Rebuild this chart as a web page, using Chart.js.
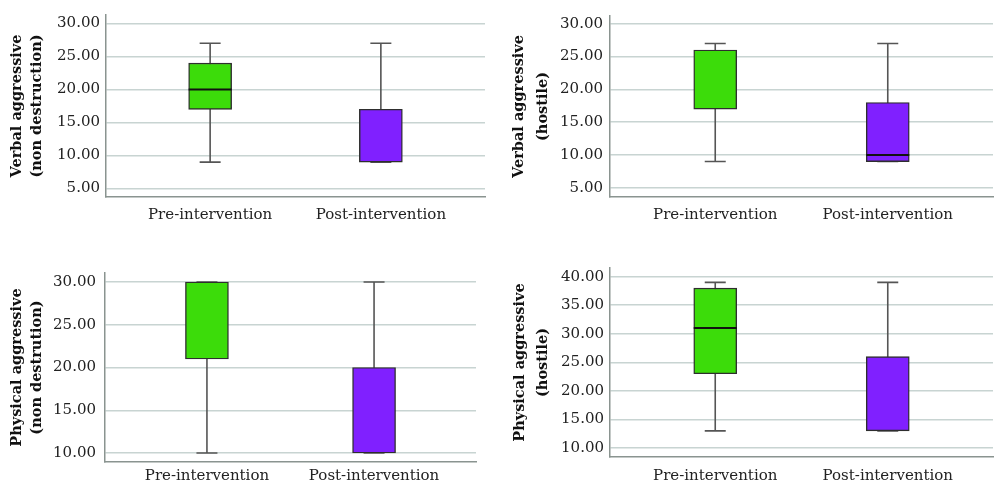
<!DOCTYPE html>
<html>
<head>
<meta charset="utf-8">
<script src="https://cdn.jsdelivr.net/npm/chart.js@4"></script>
<style>
  html, body { margin: 0; padding: 0; background: #fff; }
  #wrap { position: relative; width: 1000px; height: 494px; }
  .panel { position: absolute; width: 500px; height: 247px; }
</style>
</head>
<body>
<div id="wrap">
  <div class="panel" style="left:0;top:0"><canvas id="c1"></canvas></div>
  <div class="panel" style="left:500px;top:0"><canvas id="c2"></canvas></div>
  <div class="panel" style="left:0;top:247px"><canvas id="c3"></canvas></div>
  <div class="panel" style="left:500px;top:247px"><canvas id="c4"></canvas></div>
</div>
<script>
  // Categorias do eixo x
  const categories = ["Pre-intervention", "Post-intervention"];

  // Cinco números de cada caixa: [mín, Q1, mediana, Q3, máx]
  const verbalNonDestPre = [9, 17, 20, 24, 27];
  const verbalNonDestPost = [9, 9, 9, 17, 27];
  const verbalHostilePre = [9, 17, 26, 26, 27];
  const verbalHostilePost = [9, 9, 10, 18, 27];
  const physicalNonDestPre = [10, 21, 30, 30, 30];
  const physicalNonDestPost = [10, 10, 10, 20, 30];
  const physicalHostilePre = [13, 23, 31, 38, 39];
  const physicalHostilePost = [13, 13, 13, 26, 39];

  // Títulos dos eixos y
  const titleVerbalNonDest = ["Verbal aggressive", "(non destruction)"];
  const titleVerbalHostile = ["Verbal aggressive", "(hostile)"];
  const titlePhysicalNonDest = ["Physical aggressive", "(non destrution)"];
  const titlePhysicalHostile = ["Physical aggressive", "(hostile)"];

  const GREEN = "#3cdc0a";
  const PURPLE = "#8020ff";
  const FONT = "'DejaVu Serif', serif";

  // Bigodes (atrás das caixas) e medianas (por cima)
  const boxWhiskers = {
    id: "boxWhiskers",
    beforeDatasetsDraw(chart, args, opts) {
      const { ctx, scales: { x, y } } = chart;
      ctx.save();
      ctx.strokeStyle = "#555";
      ctx.lineWidth = 1.6;
      opts.stats.forEach((s, i) => {
        const cx = x.getPixelForValue(i + 1);
        const half = opts.capWidth / 2;
        ctx.beginPath();
        ctx.moveTo(cx, y.getPixelForValue(s[0]));
        ctx.lineTo(cx, y.getPixelForValue(s[4]));
        [s[0], s[4]].forEach((v) => {
          const py = y.getPixelForValue(v);
          ctx.moveTo(cx - half, py);
          ctx.lineTo(cx + half, py);
        });
        ctx.stroke();
      });
      ctx.restore();
    },
    afterDatasetsDraw(chart, args, opts) {
      const { ctx, scales: { x, y } } = chart;
      ctx.save();
      ctx.strokeStyle = "#111";
      ctx.lineWidth = 2;
      opts.stats.forEach((s, i) => {
        // mediana colada na borda da caixa não aparece no original
        if (s[2] <= s[1] || s[2] >= s[3]) return;
        const cx = x.getPixelForValue(i + 1);
        const py = y.getPixelForValue(s[2]);
        ctx.beginPath();
        ctx.moveTo(cx - opts.boxWidth / 2, py);
        ctx.lineTo(cx + opts.boxWidth / 2, py);
        ctx.stroke();
      });
      ctx.restore();
    },
  };

  function makeBoxChart(id, p) {
    const stats = [p.pre, p.post];
    new Chart(document.getElementById(id), {
      type: "bar",
      data: {
        datasets: [
          {
            data: stats.map((s, i) => ({ x: i + 1, y: [s[1], s[3]] })),
            backgroundColor: [GREEN, PURPLE],
            borderColor: "#2e2e2e",
            borderWidth: 1.4,
            borderSkipped: false,
            barThickness: 43,
          },
        ],
      },
      plugins: [boxWhiskers],
      options: {
        responsive: true,
        maintainAspectRatio: false,
        animation: false,
        layout: { padding: p.padding },
        scales: {
          x: {
            type: "linear",
            offset: false,
            min: 0.39,
            max: 2.61,
            afterBuildTicks: (s) => {
              s.ticks = [{ value: 1 }, { value: 2 }];
            },
            afterFit: (s) => {
              s.height = p.xHeight;
            },
            grid: { display: false, offset: false },
            border: { display: true, color: "#8a9490", width: 1.5 },
            ticks: {
              padding: p.xPad,
              color: "#222",
              font: { family: FONT, size: 15 },
              callback: (v) => categories[v - 1] || "",
            },
          },
          y: {
            min: p.yMin,
            max: p.yMax,
            afterFit: (s) => {
              s.width = p.yWidth;
            },
            grid: { color: "#c8d4d2", lineWidth: 1.5, drawTicks: false },
            border: { display: true, color: "#8a9490", width: 1.5 },
            ticks: {
              stepSize: 5,
              includeBounds: false,
              padding: p.yPad,
              color: "#222",
              font: { family: FONT, size: 15 },
              callback: (v) => v.toFixed(2),
            },
            title: {
              display: true,
              text: p.title,
              color: "#111",
              padding: { top: p.titlePad, bottom: 0 },
              font: { family: FONT, size: 14.5, weight: "bold", lineHeight: p.titleLh / 14.5 },
            },
          },
        },
        plugins: {
          legend: { display: false },
          tooltip: { enabled: false },
          boxWhiskers: { stats, capWidth: 21, boxWidth: 43 },
        },
      },
    });
  }

  makeBoxChart("c1", {
    pre: verbalNonDestPre, post: verbalNonDestPost, title: titleVerbalNonDest,
    yMin: 3.71, yMax: 31.29, padding: { top: 5, right: 15 },
    yWidth: 106, xHeight: 50, yPad: 6, xPad: 1, titlePad: 6.75, titleLh: 20.5,
  });
  makeBoxChart("c2", {
    pre: verbalHostilePre, post: verbalHostilePost, title: titleVerbalHostile,
    yMin: 3.6, yMax: 31.19, padding: { top: 0, right: 7 },
    yWidth: 110, xHeight: 50, yPad: 7, xPad: 1, titlePad: 7.75, titleLh: 23.5,
  });
  makeBoxChart("c3", {
    pre: physicalNonDestPre, post: physicalNonDestPost, title: titlePhysicalNonDest,
    yMin: 8.95, yMax: 31.05, padding: { top: 26, right: 24 },
    yWidth: 105, xHeight: 32, yPad: 9, xPad: -3, titlePad: 7, titleLh: 20,
  });
  makeBoxChart("c4", {
    pre: physicalHostilePre, post: physicalHostilePost, title: titlePhysicalHostile,
    yMin: 8.42, yMax: 41.52, padding: { top: 21, right: 7 },
    yWidth: 110, xHeight: 37, yPad: 6, xPad: 2, titlePad: 8.25, titleLh: 23.5,
  });
</script>
</body>
</html>
